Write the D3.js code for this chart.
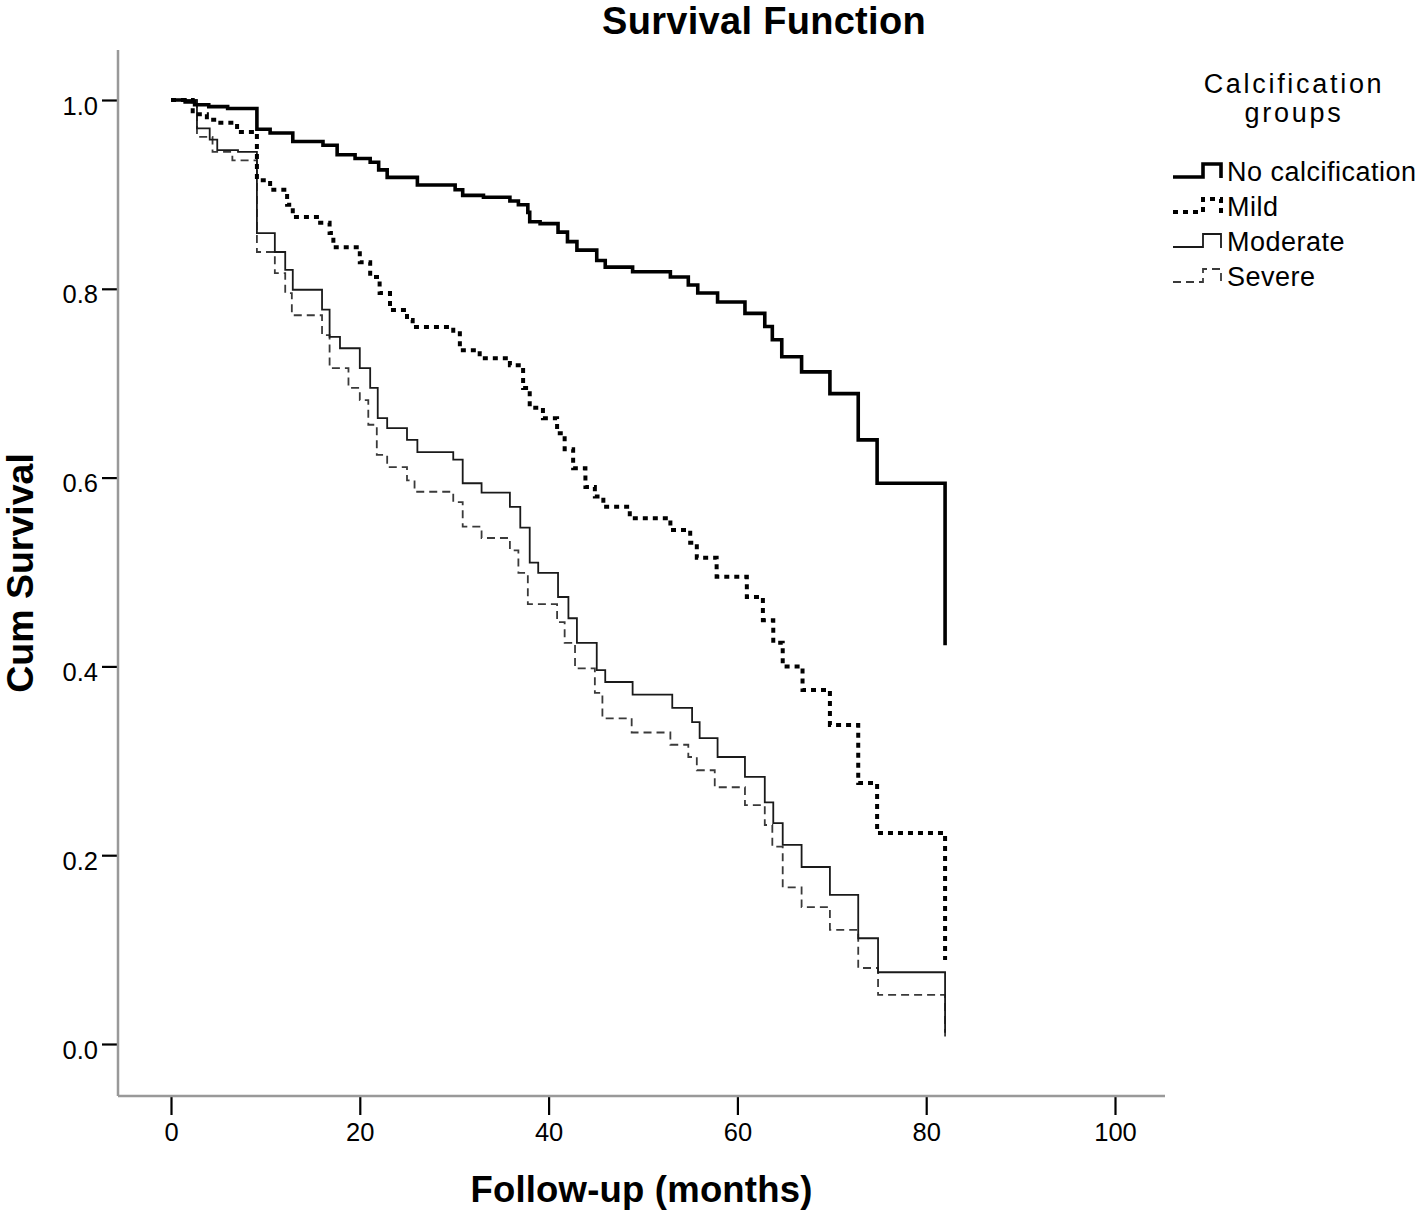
<!DOCTYPE html>
<html>
<head>
<meta charset="utf-8">
<script src="https://cdn.jsdelivr.net/npm/d3@7"></script>
<style>
    body { margin: 0; background: #fff; }
    text { font-family: "Liberation Sans", Arial, sans-serif; fill: #000; }
</style>
</head>
<body>
<script>
var groupNames = ['No calcification', 'Mild', 'Moderate', 'Severe'];

var noneMonths = [0, 1.5, 2.5, 4, 6, 9.1, 10.5, 12.9, 16.1, 17.6, 19.5, 21.1, 22, 22.9, 26.1, 30.1, 30.9, 33.1, 35.9, 36.8,
    37.8, 38, 39.1, 41, 42, 43, 45.1, 46, 48.9, 52.9, 54.8, 55.8, 57.9, 60.8, 62.9, 63.7, 64.7, 66.8, 69.8, 72.8, 74.8, 82];
var noneSurvival = [1, 0.998, 0.995, 0.993, 0.991, 0.969, 0.965, 0.956, 0.952, 0.942, 0.938, 0.934, 0.926, 0.918, 0.91, 0.905, 0.899, 0.897, 0.893, 0.889,
    0.881, 0.871, 0.869, 0.86, 0.85, 0.841, 0.83, 0.823, 0.818, 0.8125, 0.804, 0.7955, 0.786, 0.774, 0.76, 0.746, 0.728, 0.712, 0.689, 0.64, 0.594, 0.4225];

var mildMonths = [0, 2.3, 3.8, 5, 7, 9.1, 10.5, 12.3, 12.9, 15.8, 16.8, 17.2, 20, 21.1, 22.1, 23.2, 25, 25.6, 29.9, 30.6, 32.7, 35.9,
    37.3, 38, 39.4, 40.9, 41.7, 42.6, 43.9, 44.9, 45.8, 48.6, 52.9, 55, 55.7, 57.8, 61, 62.7, 63.8, 64.8, 66.9, 69.8, 72.8, 74.8, 82];
var mildSurvival = [1, 0.985, 0.979, 0.976, 0.966, 0.915, 0.905, 0.889, 0.876, 0.87, 0.859, 0.844, 0.828, 0.8125, 0.7955, 0.7775, 0.767, 0.7595, 0.753, 0.735, 0.7265, 0.719,
    0.695, 0.674, 0.663, 0.647, 0.63, 0.61, 0.59, 0.58, 0.569, 0.557, 0.5445, 0.531, 0.515, 0.495, 0.4735, 0.449, 0.425, 0.4, 0.375, 0.338, 0.2765, 0.2235, 0.089];

var moderateMonths = [0, 2.75, 4.1, 4.9, 7.1, 9.1, 11, 12.1, 12.9, 16, 16.8, 17.9, 20, 21.1, 21.9, 22.9, 25, 26.1, 29.9, 30.9, 32.9, 35.9,
    37, 38, 38.9, 41, 42.1, 43, 45.1, 46, 48.9, 53.1, 55.2, 56, 57.9, 60.8, 62.9, 63.8, 64.8, 66.8, 69.8, 72.8, 74.9, 82];
var moderateSurvival = [1, 0.97, 0.958, 0.947, 0.945, 0.859, 0.839, 0.82, 0.799, 0.778, 0.749, 0.737, 0.716, 0.695, 0.663, 0.6525, 0.64, 0.627, 0.619, 0.594, 0.584, 0.569,
    0.547, 0.51, 0.499, 0.4735, 0.451, 0.425, 0.396, 0.3835, 0.37, 0.356, 0.341, 0.324, 0.304, 0.283, 0.256, 0.234, 0.211, 0.1875, 0.158, 0.112, 0.076, 0.012];

var severeMonths = [0, 2.75, 4.4, 6.5, 9.1, 11, 12.1, 12.8, 16, 16.8, 18.8, 20, 20.9, 21.8, 22.9, 25, 25.8, 29.9, 30.9, 32.9, 35.9,
    36.8, 37.8, 40.9, 41.7, 42.8, 44.9, 45.7, 48.8, 52.9, 54.8, 55.7, 57.6, 60.8, 62.9, 63.7, 64.8, 66.8, 69.8, 72.8, 74.9, 82];
var severeSurvival = [1, 0.961, 0.945, 0.936, 0.839, 0.8165, 0.7955, 0.772, 0.751, 0.716, 0.695, 0.682, 0.656, 0.624, 0.611, 0.597, 0.585, 0.574, 0.548, 0.536, 0.523,
    0.499, 0.466, 0.447, 0.425, 0.398, 0.372, 0.345, 0.33, 0.317, 0.304, 0.29, 0.272, 0.253, 0.232, 0.209, 0.166, 0.145, 0.121, 0.0805, 0.052, 0.008];

var xTicks = [0, 20, 40, 60, 80, 100];
var yTicks = [0, 0.2, 0.4, 0.6, 0.8, 1.0];

var width = 1418, height = 1216;

var x = d3.scaleLinear().domain([0, 100]).range([171, 1115]);
var y = d3.scaleLinear().domain([0, 1]).range([1044, 100]);

// plot frame edges (axis lines run past the ticks like in SPSS)
var frame = {left: 118, right: 1165, top: 50, bottom: 1096};

var svg = d3.select('body').append('svg')
    .attr('width', width)
    .attr('height', height);

function zip(months, surv) {
    return months.map(function (m, i) { return [m, surv[i]]; });
}

var styles = [
    {months: noneMonths, surv: noneSurvival, stroke: '#000', width: 3.6, dash: null},
    {months: mildMonths, surv: mildSurvival, stroke: '#000', width: 4, dash: '5,5'},
    {months: moderateMonths, surv: moderateSurvival, stroke: '#1a1a1a', width: 1.8, dash: null},
    {months: severeMonths, surv: severeSurvival, stroke: '#3a3a3a', width: 1.8, dash: '8,5'}
];

// axes
var yAxis = d3.axisLeft(y).tickValues(yTicks).tickFormat(d3.format('.1f')).tickSize(16).tickPadding(4);
var xAxis = d3.axisBottom(x).tickValues(xTicks).tickFormat(d3.format('d')).tickSize(18).tickPadding(8);

var gy = svg.append('g')
    .attr('transform', 'translate(' + frame.left + ',0)')
    .call(yAxis);
gy.select('.domain').remove();
gy.selectAll('.tick line').attr('stroke', '#000').attr('stroke-width', 2.2);
gy.selectAll('.tick text')
    .attr('dy', '0.55em')
    .style('font-size', '25.5px');

var gx = svg.append('g')
    .attr('transform', 'translate(0,' + (frame.bottom + 1) + ')')
    .call(xAxis);
gx.select('.domain').remove();
gx.selectAll('.tick line').attr('stroke', '#000').attr('stroke-width', 2.2);
gx.selectAll('.tick text')
    .style('font-size', '25.5px');

svg.append('line')
    .attr('x1', frame.left).attr('x2', frame.left)
    .attr('y1', frame.top).attr('y2', frame.bottom)
    .attr('stroke', '#999').attr('stroke-width', 2.5);

svg.append('line')
    .attr('x1', frame.left).attr('x2', frame.right)
    .attr('y1', frame.bottom).attr('y2', frame.bottom)
    .attr('stroke', '#999').attr('stroke-width', 2.5);

// survival curves, drawn back to front
var line = d3.line()
    .x(function (d) { return x(d[0]); })
    .y(function (d) { return y(d[1]); })
    .curve(d3.curveStepAfter);

styles.slice().reverse().forEach(function (s) {
    svg.append('path')
        .datum(zip(s.months, s.surv))
        .attr('d', line)
        .attr('fill', 'none')
        .attr('stroke', s.stroke)
        .attr('stroke-width', s.width)
        .attr('stroke-dasharray', s.dash);
});

// titles
svg.append('text')
    .attr('x', 764).attr('y', 34)
    .attr('text-anchor', 'middle')
    .style('font-size', '38px').style('font-weight', 'bold')
    .style('letter-spacing', '0.3px')
    .text('Survival Function');

svg.append('text')
    .attr('x', (frame.left + frame.right) / 2).attr('y', 1202)
    .attr('text-anchor', 'middle')
    .style('font-size', '36.5px').style('font-weight', 'bold')
    .style('letter-spacing', '0.2px')
    .text('Follow-up (months)');

svg.append('text')
    .attr('transform', 'translate(33,' + ((frame.top + frame.bottom) / 2) + ') rotate(-90)')
    .attr('text-anchor', 'middle')
    .style('font-size', '37.5px').style('font-weight', 'bold')
    .text('Cum Survival');

// legend
var legend = svg.append('g');

legend.append('text')
    .attr('x', 1294).attr('y', 93)
    .attr('text-anchor', 'middle')
    .style('font-size', '27px').style('letter-spacing', '2.7px')
    .text('Calcification');

legend.append('text')
    .attr('x', 1294).attr('y', 122)
    .attr('text-anchor', 'middle')
    .style('font-size', '27px').style('letter-spacing', '2.7px')
    .text('groups');

groupNames.forEach(function (name, i) {
    var b = 181 + i * 35,
        s = styles[i];

    legend.append('path')
        .attr('d', 'M1173,' + (b - 4) + 'H1203V' + (b - 17) + 'H1221V' + (b - 3))
        .attr('fill', 'none')
        .attr('stroke', s.stroke)
        .attr('stroke-width', s.width)
        .attr('stroke-dasharray', s.dash);

    legend.append('text')
        .attr('x', 1227).attr('y', b)
        .style('font-size', '27px')
        .style('letter-spacing', '0.5px')
        .text(name);
});
</script>
</body>
</html>
